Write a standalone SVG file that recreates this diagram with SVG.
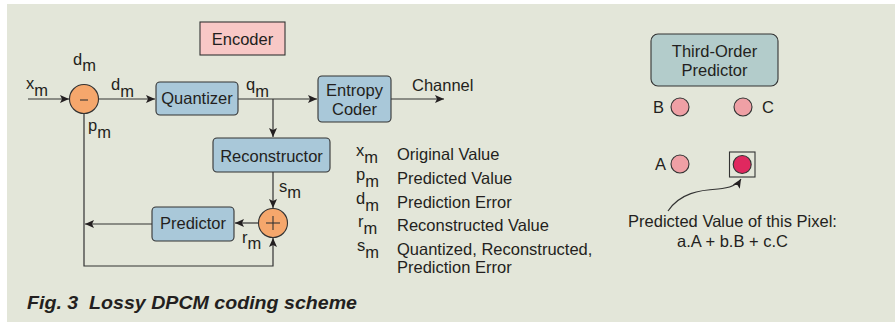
<svg xmlns="http://www.w3.org/2000/svg" width="895" height="324" viewBox="0 0 895 324">
<defs>
<style>
text{font-family:"Liberation Sans",Arial,sans-serif;font-size:16.5px;fill:#231f20}
.c{text-anchor:middle}
.box{fill:#a9c8d9;stroke:#333;stroke-width:1.1}
.ln{fill:none;stroke:#333;stroke-width:1.2}
.op{fill:#f5a76c;stroke:#333;stroke-width:1.1}
.pix{fill:#efa0a5;stroke:#333;stroke-width:1.1}
.sign{stroke:#333;stroke-width:1.1}
</style>
<marker id="ah" markerWidth="10" markerHeight="8" refX="9" refY="4" orient="auto" markerUnits="userSpaceOnUse">
<path d="M0,0 L9,4 L0,8 L2,4 z" fill="#231f20"/>
</marker>
</defs>
<rect x="7" y="4" width="888" height="318" fill="#e3e6d9"/>

<g id="connectors">
<path class="ln" d="M28,99 L69,99" marker-end="url(#ah)"/>
<path class="ln" d="M98.5,99 L155,99" marker-end="url(#ah)"/>
<path class="ln" d="M238,99 L317,99" marker-end="url(#ah)"/>
<path class="ln" d="M273,99 L273,137" marker-end="url(#ah)"/>
<path class="ln" d="M391,99 L444,99" marker-end="url(#ah)"/>
<path class="ln" d="M273,172 L273,208" marker-end="url(#ah)"/>
<path class="ln" d="M258.5,223 L235,223" marker-end="url(#ah)"/>
<path class="ln" d="M152,224 L85,224" marker-end="url(#ah)"/>
<path class="ln" d="M84,113.5 L84,266 L273,266 L273,238" marker-end="url(#ah)"/>
<path class="ln" d="M668,211 C680,193 700,190 718,189 C731,188 738,184 741,179" marker-end="url(#ah)"/>
</g>

<g id="encoder-label">
<rect x="200" y="22" width="85" height="33" fill="#f8c8c6" stroke="#333" stroke-width="1.1"/>
<text class="c" x="242.5" y="45">Encoder</text>
</g>

<g id="subtractor">
<circle class="op" cx="84" cy="99" r="14.5"/>
<line class="sign" x1="80" y1="100" x2="88" y2="100"/>
</g>

<g id="quantizer">
<rect class="box" x="156" y="82" width="82" height="33" rx="4"/>
<text class="c" x="197" y="104">Quantizer</text>
</g>

<g id="entropy-coder">
<rect class="box" x="318" y="76" width="73" height="46" rx="4"/>
<text class="c" x="354.5" y="96">Entropy</text>
<text class="c" x="354.5" y="114.5">Coder</text>
</g>

<g id="reconstructor">
<rect class="box" x="213" y="138" width="117" height="34" rx="4"/>
<text class="c" x="271.5" y="162">Reconstructor</text>
</g>

<g id="adder">
<circle class="op" cx="273" cy="223" r="14.5"/>
<line class="sign" x1="266" y1="223" x2="280" y2="223"/>
<line class="sign" x1="273" y1="216" x2="273" y2="230"/>
</g>

<g id="predictor">
<rect class="box" x="152" y="207" width="82" height="34" rx="4"/>
<text class="c" x="193" y="229">Predictor</text>
</g>

<g id="signal-labels">
<text x="73" y="65">d<tspan dy="6">m</tspan></text>
<text x="26" y="89">x<tspan dy="7">m</tspan></text>
<text x="111" y="90">d<tspan dy="7">m</tspan></text>
<text x="246" y="90">q<tspan dy="7">m</tspan></text>
<text x="88" y="131">p<tspan dy="7">m</tspan></text>
<text x="279" y="192">s<tspan dy="6">m</tspan></text>
<text x="242" y="243">r<tspan dy="6">m</tspan></text>
<text x="412" y="91">Channel</text>
</g>

<g id="legend">
<text x="356" y="156">x<tspan dy="7">m</tspan></text>
<text x="397" y="160">Original Value</text>
<text x="356" y="180">p<tspan dy="7">m</tspan></text>
<text x="397" y="184">Predicted Value</text>
<text x="356" y="204">d<tspan dy="7">m</tspan></text>
<text x="397" y="208">Prediction Error</text>
<text x="358" y="227">r<tspan dy="7">m</tspan></text>
<text x="397" y="231">Reconstructed Value</text>
<text x="357" y="251">s<tspan dy="7">m</tspan></text>
<text x="397" y="255">Quantized, Reconstructed,</text>
<text x="397" y="273">Prediction Error</text>
</g>

<g id="third-order-predictor">
<rect x="651" y="34" width="127" height="52" rx="7" fill="#b3cccb" stroke="#333" stroke-width="1.1"/>
<text class="c" x="714.5" y="57">Third-Order</text>
<text class="c" x="714.5" y="75.5">Predictor</text>
</g>

<g id="pixel-b">
<text x="653" y="113">B</text>
<circle class="pix" cx="680" cy="107" r="9"/>
</g>
<g id="pixel-c">
<circle class="pix" cx="743" cy="107" r="9"/>
<text x="762" y="113">C</text>
</g>
<g id="pixel-a">
<text x="655" y="170">A</text>
<circle class="pix" cx="680" cy="164" r="9"/>
</g>
<g id="pixel-current">
<rect x="729.5" y="152" width="25.5" height="25" fill="none" stroke="#333" stroke-width="1.1"/>
<circle cx="742.2" cy="164.5" r="9" fill="#e0285f" stroke="#333" stroke-width="1.1"/>
</g>

<g id="prediction-note">
<text class="c" x="732.5" y="227">Predicted Value of this Pixel:</text>
<text class="c" x="732.5" y="247">a.A + b.B + c.C</text>
</g>

<text x="27" y="309" style="white-space:pre;font-weight:bold;font-style:italic;font-size:19px" textLength="330" lengthAdjust="spacingAndGlyphs">Fig. 3  Lossy DPCM coding scheme</text>
</svg>
